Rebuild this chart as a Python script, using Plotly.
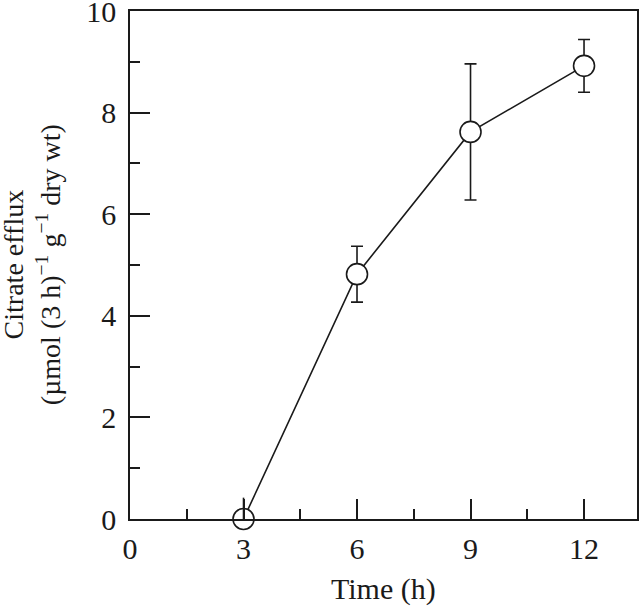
import plotly.graph_objects as go

time_h = [3, 6, 9, 12]
citrate = [0.0, 4.82, 7.62, 8.92]
err = [0.42, 0.55, 1.34, 0.52]

x_ticks = [0, 3, 6, 9, 12]
y_ticks = [0, 2, 4, 6, 8, 10]

FONT = "Liberation Serif"
INK = "#1a1a1a"

fig = go.Figure()
fig.add_trace(go.Scatter(
    x=time_h, y=citrate,
    mode="lines+markers",
    line=dict(color=INK, width=1.6),
    marker=dict(symbol="circle", size=21, color="white", line=dict(color=INK, width=1.6)),
    error_y=dict(type="data", array=[0] + err[1:], visible=True,
                 color=INK, thickness=1.6, width=6),
    cliponaxis=False,
    showlegend=False,
))
fig.add_trace(go.Scatter(
    x=time_h[:1], y=citrate[:1],
    mode="markers",
    marker=dict(size=1, color="rgba(0,0,0,0)"),
    error_y=dict(type="data", symmetric=False, array=err[:1], arrayminus=[0],
                 visible=True, color=INK, thickness=1.6, width=0),
    cliponaxis=False,
    showlegend=False,
))

fig.update_layout(
    width=640, height=607,
    margin=dict(l=130, r=3, t=11, b=88, pad=0),
    paper_bgcolor="white", plot_bgcolor="white",
    font=dict(family=FONT, size=30, color=INK),
    showlegend=False,
)
fig.update_xaxes(
    range=[0, 13.4], tickvals=x_ticks, ticktext=[str(v) for v in x_ticks],
    ticks="inside", ticklen=20, tickwidth=1.6, tickcolor=INK,
    minor=dict(dtick=1.5, tick0=0, ticks="inside", ticklen=10, tickwidth=1.6, tickcolor=INK),
    showline=True, linecolor=INK, linewidth=1.6, mirror=True,
    showgrid=False, zeroline=False, automargin=False,
    tickfont=dict(family=FONT, size=30, color=INK),
    ticklabelstandoff=2, ticklabeloverflow="allow",
)
fig.update_yaxes(
    range=[0, 10], tickvals=y_ticks, ticktext=[str(v) for v in y_ticks],
    ticks="inside", ticklen=20, tickwidth=1.6, tickcolor=INK,
    minor=dict(dtick=1, tick0=0, ticks="inside", ticklen=10, tickwidth=1.6, tickcolor=INK),
    showline=True, linecolor=INK, linewidth=1.6, mirror=True,
    showgrid=False, zeroline=False, automargin=False,
    tickfont=dict(family=FONT, size=30, color=INK),
    ticklabelstandoff=6, ticklabeloverflow="allow",
)
fig.add_annotation(
    xref="paper", yref="paper", x=0.5, y=-0.138,
    xanchor="center", yanchor="middle", showarrow=False,
    text="Time (h)",
    font=dict(family=FONT, size=30, color=INK),
)
fig.add_annotation(
    xref="paper", yref="paper", x=-0.195, y=0.5,
    xanchor="center", yanchor="middle", textangle=-90, showarrow=False,
    text="Citrate efflux<br>(µmol (3 h)<sup>−1</sup> g<sup>−1</sup> dry wt)",
    font=dict(family=FONT, size=28, color=INK),
)

fig.write_html(
    "out.html",
    config={"displayModeBar": False},
    post_script="document.body.style.margin='0px';document.body.style.overflow='hidden';",
)
